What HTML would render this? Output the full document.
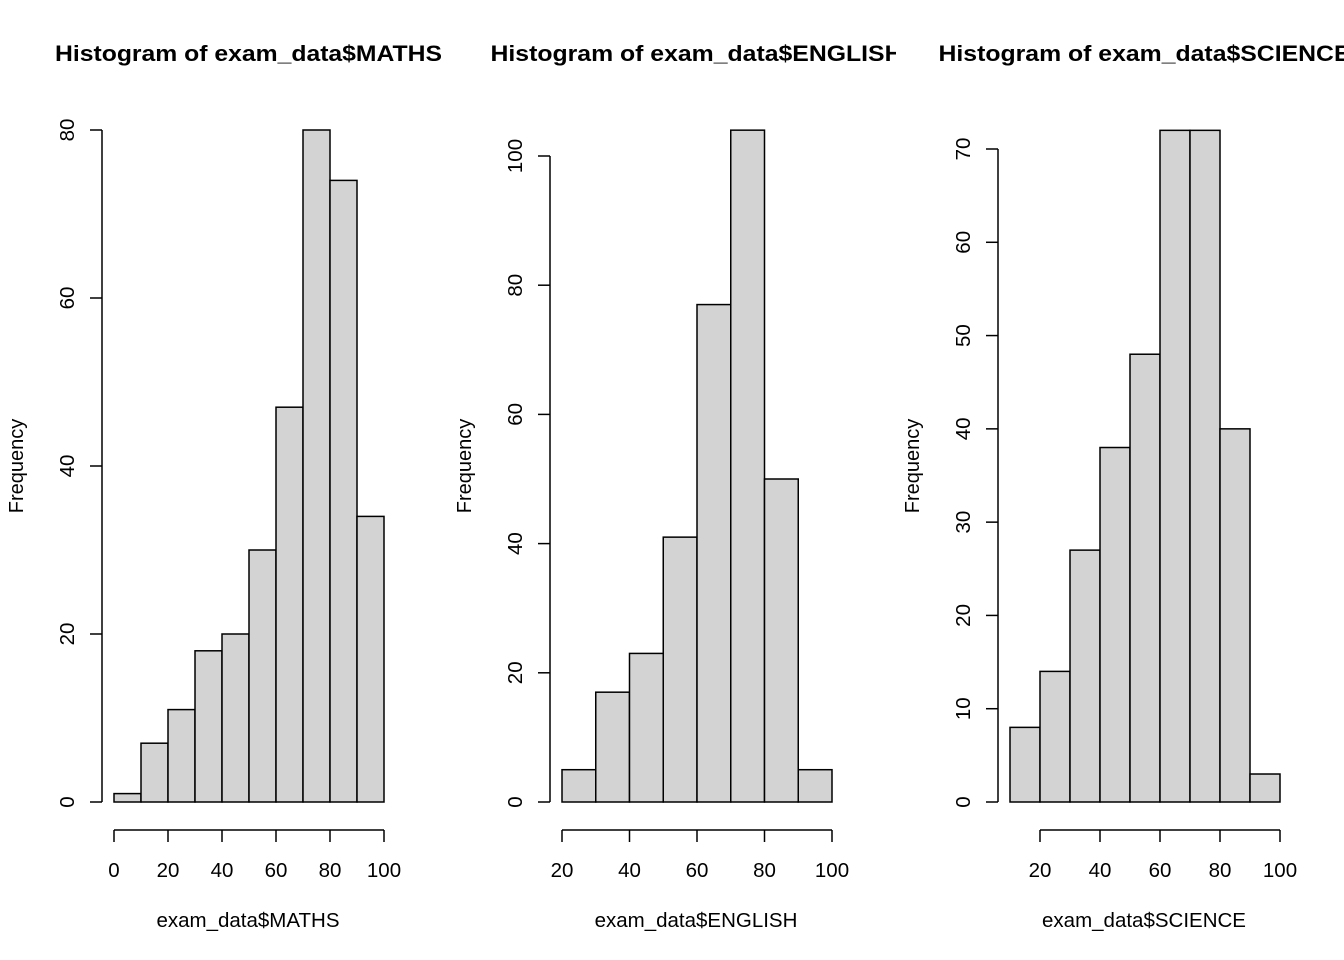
<!DOCTYPE html>
<html><head><meta charset="utf-8"><style>
body{margin:0;background:#fff}
svg{display:block;font-family:"Liberation Sans",Arial,sans-serif}
</style></head><body>
<svg id="c" width="1344" height="960" viewBox="0 0 1344 960"></svg>
<script>
const mathsBreaks=[0,10,20,30,40,50,60,70,80,90,100];
const mathsCounts=[1,7,11,18,20,30,47,80,74,34];
const englishBreaks=[20,30,40,50,60,70,80,90,100];
const englishCounts=[5,17,23,41,77,104,50,5];
const scienceBreaks=[10,20,30,40,50,60,70,80,90,100];
const scienceCounts=[8,14,27,38,48,72,72,40,3];
const mathsXTicks=[0,20,40,60,80,100];
const englishXTicks=[20,40,60,80,100];
const scienceXTicks=[20,40,60,80,100];
const mathsYTicks=[0,20,40,60,80];
const englishYTicks=[0,20,40,60,80,100];
const scienceYTicks=[0,10,20,30,40,50,60,70];

const NS="http://www.w3.org/2000/svg";
const svg=document.getElementById('c');
function mk(parent,tag,attrs,text){const e=document.createElementNS(NS,tag);for(const k in attrs)e.setAttribute(k,attrs[k]);if(text!==undefined)e.textContent=text;parent.appendChild(e);return e;}

const panels=[
 {key:'maths',title:'Histogram of exam_data$MATHS',tw:387,xlab:'exam_data$MATHS',breaks:mathsBreaks,counts:mathsCounts,xt:mathsXTicks,yt:mathsYTicks,x0:0,x1:100,px0:114,px1:384,ymax:80,pymax:130,yax:102,off:0},
 {key:'english',title:'Histogram of exam_data$ENGLISH',tw:412,xlab:'exam_data$ENGLISH',breaks:englishBreaks,counts:englishCounts,xt:englishXTicks,yt:englishYTicks,x0:20,x1:100,px0:562,px1:832,ymax:100,pymax:156,yax:550,off:448},
 {key:'science',title:'Histogram of exam_data$SCIENCE',tw:412,xlab:'exam_data$SCIENCE',breaks:scienceBreaks,counts:scienceCounts,xt:scienceXTicks,yt:scienceYTicks,x0:20,x1:100,px0:1040,px1:1280,ymax:70,pymax:149,yax:998,off:896}
];
const py0=802;
panels.forEach((p,i)=>{
  const g=mk(svg,'g',{});
  
  
  const cp=mk(svg,'clipPath',{id:'clip'+i});
  mk(cp,'rect',{x:p.off,y:0,width:448,height:960});
  const xs=v=>p.px0+(v-p.x0)*(p.px1-p.px0)/(p.x1-p.x0);
  const ys=v=>py0-v*(py0-p.pymax)/p.ymax;
  const t=mk(g,'text',{x:p.off+248.5-p.tw/2,y:61,'font-size':'22px','font-weight':'bold',textLength:p.tw,lengthAdjust:'spacingAndGlyphs','clip-path':'url(#clip'+i+')'},p.title);
  
  
  p.counts.forEach((c,j)=>{
    const r=mk(g,'rect',{x:xs(p.breaks[j]),y:ys(c),width:xs(p.breaks[j+1])-xs(p.breaks[j]),height:ys(0)-ys(c),fill:'#d3d3d3',stroke:'#000','stroke-width':1.5});
    
    
  });
  const xa=mk(g,'g',{});
  
  
  mk(xa,'line',{x1:xs(p.xt[0]),x2:xs(p.xt[p.xt.length-1]),y1:830,y2:830,stroke:'#000','stroke-width':1.5});
  p.xt.forEach(v=>{
    mk(xa,'line',{x1:xs(v),x2:xs(v),y1:830,y2:842,stroke:'#000','stroke-width':1.5});
    mk(xa,'text',{x:xs(v),y:877,'text-anchor':'middle','font-size':'20.5px'},v);
  });
  const ya=mk(g,'g',{});
  
  
  mk(ya,'line',{x1:p.yax,x2:p.yax,y1:ys(p.yt[0]),y2:ys(p.yt[p.yt.length-1]),stroke:'#000','stroke-width':1.5});
  p.yt.forEach(v=>{
    mk(ya,'line',{x1:p.yax-12,x2:p.yax,y1:ys(v),y2:ys(v),stroke:'#000','stroke-width':1.5});
    mk(ya,'text',{x:p.yax-35,y:ys(v),'text-anchor':'middle','font-size':'20.5px',transform:`rotate(-90 ${p.yax-35} ${ys(v)})`,dy:'0.35em'},v);
  });
  const xl=mk(g,'text',{x:p.off+248,y:927,'text-anchor':'middle','font-size':'20.5px'},p.xlab);
  
  
  const lx=p.off+23,ly=466;
  const yl=mk(g,'text',{x:lx,y:ly,'text-anchor':'middle','font-size':'20px',transform:`rotate(-90 ${lx} ${ly})`},'Frequency');
  
  
});
</script>
</body></html>
